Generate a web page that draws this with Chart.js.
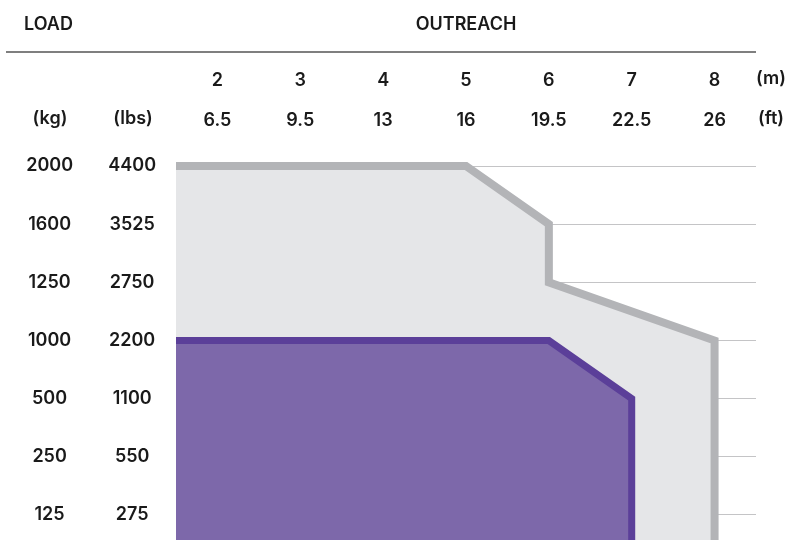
<!DOCTYPE html>
<html lang="en">
<head>
    <meta charset="UTF-8">
    <title>Load Chart</title>
    <script src="https://cdn.jsdelivr.net/npm/chart.js"></script>
    <style>
        body {
            margin: 0;
            background: #ffffff;
        }
        .chart-box {
            position: relative;
            width: 789px;
            height: 540px;
        }
    </style>
</head>
<body>

<div class="chart-box">
    <canvas id="loadChart"></canvas>
</div>

<script>
    // Axis labels
    const kgLabels = ['2000', '1600', '1250', '1000', '500', '250', '125'];
    const lbsLabels = ['4400', '3525', '2750', '2200', '1100', '550', '275'];
    const outreachM = [2, 3, 4, 5, 6, 7, 8];
    const outreachFt = ['6.5', '9.5', '13', '16', '19.5', '22.5', '26'];

    // Load rows are evenly spaced, so y is the row index (0 = 2000 kg)
    const rowIndex = [0, 1, 2, 3, 4, 5, 6];

    // Outline of the big (grey) envelope: [outreach m, load row]
    const greyX = [1.5, 5, 6, 6, 8, 8];
    const greyY = [0, 0, 1, 2, 3, 7];

    // Outline of the smaller (purple) envelope
    const purpleX = [1.5, 6, 7, 7];
    const purpleY = [3, 3, 4, 7];

    const xMin = 1.5, xMax = 8.5;
    const yMin = -0.31, yMax = 6.43;

    const font = { family: 'Inter', size: 18, weight: '600' };
    const textColor = '#1a1a1a';

    const toPoints = (xs, ys) => xs.map((x, i) => ({ x: x, y: ys[i] }));

    // fixed size for the label columns; drop the extra padding chart.js adds
    // for the first/last label, it would shrink the plot area
    const fitLeft = (width) => (scale) => {
        scale.width = width;
        scale.paddingTop = 0;
        scale.paddingBottom = 0;
    };

    // Header texts, rule and unit labels
    const headerPlugin = {
        id: 'header',
        afterDraw(chart) {
            const ctx = chart.ctx;
            const top = chart.chartArea.top;
            ctx.save();
            ctx.fillStyle = textColor;
            ctx.font = '600 18px Inter';
            ctx.textBaseline = 'middle';
            ctx.textAlign = 'left';
            ctx.fillText('LOAD', 24, 25);
            ctx.textAlign = 'center';
            ctx.fillText('OUTREACH', 466, 25);

            ctx.strokeStyle = '#555555';
            ctx.lineWidth = 1.5;
            ctx.beginPath();
            ctx.moveTo(6, 52);
            ctx.lineTo(756, 52);
            ctx.stroke();

            ctx.fillText('(kg)', 50, top - 29);
            ctx.fillText('(lbs)', 133, top - 29);
            ctx.fillText('(m)', 771, top - 69);
            ctx.fillText('(ft)', 771, top - 29);
            ctx.restore();
        }
    };

    const ctx = document.getElementById('loadChart').getContext('2d');

    new Chart(ctx, {
        type: 'line',
        data: {
            datasets: [
                {
                    label: 'Envelope',
                    data: toPoints(greyX, greyY),
                    borderColor: '#b3b4b7',
                    backgroundColor: '#e5e6e8',
                    borderWidth: 8,
                    pointRadius: 0,
                    tension: 0,
                    fill: { value: yMax + 1 },
                    order: 2
                },
                {
                    label: 'Reduced',
                    data: toPoints(purpleX, purpleY),
                    borderColor: '#5b3f99',
                    backgroundColor: '#7d68aa',
                    borderWidth: 7,
                    pointRadius: 0,
                    tension: 0,
                    fill: { value: yMax + 1 },
                    order: 1
                }
            ]
        },
        options: {
            responsive: true,
            maintainAspectRatio: false,
            animation: false,
            layout: {
                autoPadding: false,
                padding: { top: 68, right: 33, left: 0, bottom: 0 }
            },
            plugins: {
                legend: { display: false },
                tooltip: { enabled: false }
            },
            scales: {
                x: {
                    type: 'linear',
                    position: 'top',
                    weight: 2,
                    min: xMin,
                    max: xMax,
                    afterBuildTicks: (scale) => { scale.ticks = outreachM.map(v => ({ value: v })); },
                    afterFit: (scale) => { scale.height = 40; },
                    grid: { display: false, drawTicks: false },
                    border: { display: false },
                    ticks: {
                        autoSkip: false,
                        maxRotation: 0,
                        padding: 17,
                        color: textColor,
                        font: font,
                        callback: (value, index) => String(outreachM[index])
                    }
                },
                x2: {
                    type: 'linear',
                    position: 'top',
                    weight: 1,
                    min: xMin,
                    max: xMax,
                    afterBuildTicks: (scale) => { scale.ticks = outreachM.map(v => ({ value: v })); },
                    afterFit: (scale) => { scale.height = 40; },
                    grid: { display: false, drawTicks: false },
                    border: { display: false },
                    ticks: {
                        autoSkip: false,
                        maxRotation: 0,
                        padding: 17,
                        color: textColor,
                        font: font,
                        callback: (value, index) => outreachFt[index]
                    }
                },
                y: {
                    type: 'linear',
                    position: 'left',
                    weight: 2,
                    reverse: true,
                    min: yMin,
                    max: yMax,
                    afterBuildTicks: (scale) => { scale.ticks = rowIndex.map(v => ({ value: v })); },
                    afterFit: fitLeft(90),
                    grid: { display: true, drawTicks: false, color: '#c4c4c6', lineWidth: 1 },
                    border: { display: false },
                    ticks: {
                        autoSkip: false,
                        crossAlign: 'center',
                        padding: 17,
                        color: textColor,
                        font: font,
                        callback: (value, index) => kgLabels[index]
                    }
                },
                y2: {
                    type: 'linear',
                    position: 'left',
                    weight: 1,
                    reverse: true,
                    min: yMin,
                    max: yMax,
                    afterBuildTicks: (scale) => { scale.ticks = rowIndex.map(v => ({ value: v })); },
                    afterFit: fitLeft(86),
                    grid: { display: false, drawTicks: false },
                    border: { display: false },
                    ticks: {
                        autoSkip: false,
                        crossAlign: 'center',
                        padding: 20,
                        color: textColor,
                        font: font,
                        callback: (value, index) => lbsLabels[index]
                    }
                }
            }
        },
        plugins: [headerPlugin]
    });
</script>

</body>
</html>
